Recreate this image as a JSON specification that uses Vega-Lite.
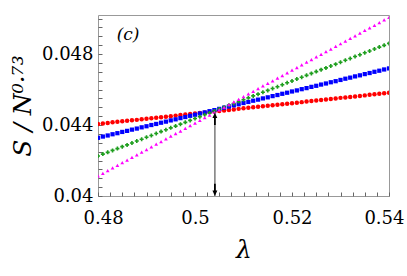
{
  "$schema": "https://vega.github.io/schema/vega-lite/v6.json",
  "width": 291,
  "height": 181,
  "autosize": "none",
  "padding": {"left": 98, "top": 15, "right": 18, "bottom": 80},
  "background": "white",
  "config": {
    "view": {"stroke": "#999999", "strokeWidth": 1},
    "font": "DejaVu Serif",
    "axis": {
      "grid": false,
      "zindex": 1,
      "domain": false,
      "offset": -4,
      "tickColor": "#666666",
      "tickWidth": 1,
      "tickSize": 4,
      "tickRound": true,
      "labelColor": "black",
      "labelFont": "DejaVu Serif",
      "labelFontSize": 18,
      "titleColor": "black",
      "titleFont": "DejaVu Serif",
      "titleFontWeight": "normal",
      "titleFontStyle": "italic",
      "titleFontSize": 25
    }
  },
  "encoding": {
    "x": {
      "field": "lambda", "type": "quantitative",
      "scale": {"domain": [0.48, 0.54], "nice": false, "zero": false},
      "axis": {
        "title": "λ",
        "titlePadding": 10,
        "values": [0.48, 0.4825, 0.485, 0.4875, 0.49, 0.4925, 0.495, 0.4975, 0.5, 0.5025, 0.505, 0.5075, 0.51, 0.5125, 0.515, 0.5175, 0.52, 0.5225, 0.525, 0.5275, 0.53, 0.5325, 0.535, 0.5375, 0.54],
        "labelExpr": "round(datum.value*10000) % 200 == 0 ? format(datum.value, '~g') : ''",
        "labelPadding": 13,
        "labelFlush": true,
        "labelFlushOffset": 15,
        "labelOverlap": false
      }
    },
    "y": {
      "field": "value", "type": "quantitative",
      "scale": {"domain": [0.04, 0.0502], "nice": false, "zero": false},
      "axis": {
        "title": "S / N⁰·⁷³",
        "titlePadding": 6,
        "values": [0.04, 0.0405, 0.041, 0.0415, 0.042, 0.0425, 0.043, 0.0435, 0.044, 0.0445, 0.045, 0.0455, 0.046, 0.0465, 0.047, 0.0475, 0.048, 0.0485, 0.049, 0.0495, 0.05],
        "labelExpr": "round(datum.value*10000) % 40 == 0 ? format(datum.value, '~g') : ''",
        "labelPadding": 5,
        "labelFlush": false,
        "labelOverlap": false
      }
    }
  },
  "layer": [
    {
      "data": {
        "values": [
          {"lambda": 0.480, "red": 0.04406, "blue": 0.04328, "green": 0.04225, "magenta": 0.04113},
          {"lambda": 0.481, "red": 0.04409, "blue": 0.04335, "green": 0.04236, "magenta": 0.04128},
          {"lambda": 0.482, "red": 0.04412, "blue": 0.04341, "green": 0.04246, "magenta": 0.04143},
          {"lambda": 0.483, "red": 0.04415, "blue": 0.04348, "green": 0.04257, "magenta": 0.04158},
          {"lambda": 0.484, "red": 0.04418, "blue": 0.04354, "green": 0.04267, "magenta": 0.04173},
          {"lambda": 0.485, "red": 0.04421, "blue": 0.04361, "green": 0.04278, "magenta": 0.04188},
          {"lambda": 0.486, "red": 0.04424, "blue": 0.04367, "green": 0.04288, "magenta": 0.04202},
          {"lambda": 0.487, "red": 0.04427, "blue": 0.04374, "green": 0.04299, "magenta": 0.04217},
          {"lambda": 0.488, "red": 0.04429, "blue": 0.04380, "green": 0.04310, "magenta": 0.04232},
          {"lambda": 0.489, "red": 0.04432, "blue": 0.04387, "green": 0.04320, "magenta": 0.04247},
          {"lambda": 0.490, "red": 0.04435, "blue": 0.04393, "green": 0.04331, "magenta": 0.04262},
          {"lambda": 0.491, "red": 0.04438, "blue": 0.04400, "green": 0.04341, "magenta": 0.04277},
          {"lambda": 0.492, "red": 0.04441, "blue": 0.04406, "green": 0.04352, "magenta": 0.04292},
          {"lambda": 0.493, "red": 0.04444, "blue": 0.04413, "green": 0.04363, "magenta": 0.04307},
          {"lambda": 0.494, "red": 0.04447, "blue": 0.04419, "green": 0.04373, "magenta": 0.04322},
          {"lambda": 0.495, "red": 0.04450, "blue": 0.04426, "green": 0.04384, "magenta": 0.04337},
          {"lambda": 0.496, "red": 0.04453, "blue": 0.04432, "green": 0.04394, "magenta": 0.04351},
          {"lambda": 0.497, "red": 0.04456, "blue": 0.04439, "green": 0.04405, "magenta": 0.04366},
          {"lambda": 0.498, "red": 0.04459, "blue": 0.04445, "green": 0.04415, "magenta": 0.04381},
          {"lambda": 0.499, "red": 0.04462, "blue": 0.04452, "green": 0.04426, "magenta": 0.04396},
          {"lambda": 0.500, "red": 0.04465, "blue": 0.04458, "green": 0.04437, "magenta": 0.04411},
          {"lambda": 0.501, "red": 0.04468, "blue": 0.04465, "green": 0.04447, "magenta": 0.04426},
          {"lambda": 0.502, "red": 0.04471, "blue": 0.04471, "green": 0.04458, "magenta": 0.04441},
          {"lambda": 0.503, "red": 0.04473, "blue": 0.04478, "green": 0.04468, "magenta": 0.04456},
          {"lambda": 0.504, "red": 0.04476, "blue": 0.04484, "green": 0.04479, "magenta": 0.04471},
          {"lambda": 0.505, "red": 0.04479, "blue": 0.04491, "green": 0.04490, "magenta": 0.04486},
          {"lambda": 0.506, "red": 0.04482, "blue": 0.04498, "green": 0.04500, "magenta": 0.04500},
          {"lambda": 0.507, "red": 0.04485, "blue": 0.04504, "green": 0.04511, "magenta": 0.04515},
          {"lambda": 0.508, "red": 0.04488, "blue": 0.04511, "green": 0.04521, "magenta": 0.04530},
          {"lambda": 0.509, "red": 0.04491, "blue": 0.04517, "green": 0.04532, "magenta": 0.04545},
          {"lambda": 0.510, "red": 0.04494, "blue": 0.04524, "green": 0.04542, "magenta": 0.04560},
          {"lambda": 0.511, "red": 0.04497, "blue": 0.04530, "green": 0.04553, "magenta": 0.04575},
          {"lambda": 0.512, "red": 0.04500, "blue": 0.04537, "green": 0.04564, "magenta": 0.04590},
          {"lambda": 0.513, "red": 0.04503, "blue": 0.04543, "green": 0.04574, "magenta": 0.04605},
          {"lambda": 0.514, "red": 0.04506, "blue": 0.04550, "green": 0.04585, "magenta": 0.04620},
          {"lambda": 0.515, "red": 0.04509, "blue": 0.04556, "green": 0.04595, "magenta": 0.04635},
          {"lambda": 0.516, "red": 0.04512, "blue": 0.04563, "green": 0.04606, "magenta": 0.04649},
          {"lambda": 0.517, "red": 0.04514, "blue": 0.04569, "green": 0.04616, "magenta": 0.04664},
          {"lambda": 0.518, "red": 0.04517, "blue": 0.04576, "green": 0.04627, "magenta": 0.04679},
          {"lambda": 0.519, "red": 0.04520, "blue": 0.04582, "green": 0.04638, "magenta": 0.04694},
          {"lambda": 0.520, "red": 0.04523, "blue": 0.04589, "green": 0.04648, "magenta": 0.04709},
          {"lambda": 0.521, "red": 0.04526, "blue": 0.04595, "green": 0.04659, "magenta": 0.04724},
          {"lambda": 0.522, "red": 0.04529, "blue": 0.04602, "green": 0.04669, "magenta": 0.04739},
          {"lambda": 0.523, "red": 0.04532, "blue": 0.04608, "green": 0.04680, "magenta": 0.04754},
          {"lambda": 0.524, "red": 0.04535, "blue": 0.04615, "green": 0.04691, "magenta": 0.04769},
          {"lambda": 0.525, "red": 0.04538, "blue": 0.04621, "green": 0.04701, "magenta": 0.04784},
          {"lambda": 0.526, "red": 0.04541, "blue": 0.04628, "green": 0.04712, "magenta": 0.04798},
          {"lambda": 0.527, "red": 0.04544, "blue": 0.04634, "green": 0.04722, "magenta": 0.04813},
          {"lambda": 0.528, "red": 0.04547, "blue": 0.04641, "green": 0.04733, "magenta": 0.04828},
          {"lambda": 0.529, "red": 0.04550, "blue": 0.04647, "green": 0.04743, "magenta": 0.04843},
          {"lambda": 0.530, "red": 0.04553, "blue": 0.04654, "green": 0.04754, "magenta": 0.04858},
          {"lambda": 0.531, "red": 0.04555, "blue": 0.04661, "green": 0.04765, "magenta": 0.04873},
          {"lambda": 0.532, "red": 0.04558, "blue": 0.04667, "green": 0.04775, "magenta": 0.04888},
          {"lambda": 0.533, "red": 0.04561, "blue": 0.04674, "green": 0.04786, "magenta": 0.04903},
          {"lambda": 0.534, "red": 0.04564, "blue": 0.04680, "green": 0.04796, "magenta": 0.04918},
          {"lambda": 0.535, "red": 0.04567, "blue": 0.04687, "green": 0.04807, "magenta": 0.04933},
          {"lambda": 0.536, "red": 0.04570, "blue": 0.04693, "green": 0.04817, "magenta": 0.04947},
          {"lambda": 0.537, "red": 0.04573, "blue": 0.04700, "green": 0.04828, "magenta": 0.04962},
          {"lambda": 0.538, "red": 0.04576, "blue": 0.04706, "green": 0.04839, "magenta": 0.04977},
          {"lambda": 0.539, "red": 0.04579, "blue": 0.04713, "green": 0.04849, "magenta": 0.04992},
          {"lambda": 0.540, "red": 0.04582, "blue": 0.04719, "green": 0.04860, "magenta": 0.05007}
        ]
      },
      "transform": [{"fold": ["red", "blue", "green", "magenta"], "as": ["series", "value"]}],
      "mark": {"type": "point", "filled": true, "opacity": 1, "clip": true},
      "encoding": {
        "color": {
          "field": "series", "type": "nominal",
          "scale": {"domain": ["red", "blue", "green", "magenta"], "range": ["#ff0000", "#0000ff", "#1e9e1e", "#ff00ff"]},
          "legend": null
        },
        "shape": {
          "field": "series", "type": "nominal",
          "scale": {"domain": ["red", "blue", "green", "magenta"], "range": ["circle", "square", "cross", "triangle-up"]},
          "legend": null
        },
        "size": {
          "field": "series", "type": "nominal",
          "scale": {"domain": ["red", "blue", "green", "magenta"], "range": [20, 14, 18, 18]},
          "legend": null
        }
      }
    },
    {
      "data": {"values": [{"lambda": 0.5041, "value": 0.04, "top": 0.0447}]},
      "mark": {"type": "rule", "color": "#7a7a7a", "strokeWidth": 1.5},
      "encoding": {
        "y2": {"field": "top"}
      }
    },
    {
      "data": {"values": [{"lambda": 0.5041, "value": 0.04435, "rot": 0}, {"lambda": 0.5041, "value": 0.04035, "rot": 180}]},
      "mark": {"type": "point", "filled": true, "opacity": 1, "color": "black", "size": 150, "shape": "arrow"},
      "encoding": {
        "angle": {"field": "rot", "type": "quantitative", "scale": null}
      }
    },
    {
      "data": {"values": [{"lambda": 0.4862, "value": 0.0491, "label": "(c)"}]},
      "mark": {"type": "text", "font": "DejaVu Serif", "fontSize": 17, "fontStyle": "italic", "color": "black"},
      "encoding": {
        "text": {"field": "label"}
      }
    }
  ]
}
